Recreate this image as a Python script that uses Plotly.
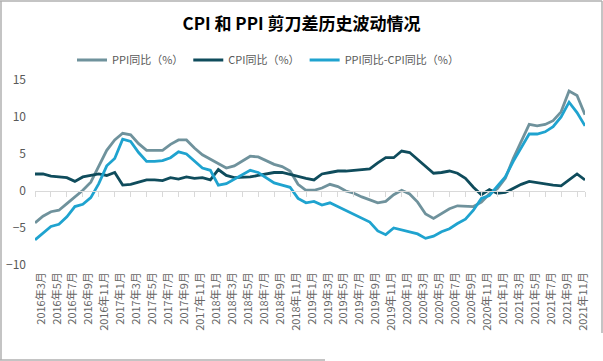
import plotly.graph_objects as go

# ---- data ----
months = []
for y in range(2016, 2022):
    for m in range(1, 13):
        if y == 2016 and m < 3:
            continue
        months.append(f"{y}年{m}月")

ppi = [-4.3, -3.4, -2.8, -2.6, -1.7, -0.8, 0.1, 1.2, 3.3, 5.5,
       6.9, 7.8, 7.6, 6.4, 5.5, 5.5, 5.5, 6.3, 6.9, 6.9, 5.8, 4.9,
       4.3, 3.7, 3.1, 3.4, 4.1, 4.7, 4.6, 4.1, 3.6, 3.3, 2.7, 0.9,
       0.1, 0.1, 0.4, 0.9, 0.6, 0.0, -0.3, -0.8, -1.2, -1.6, -1.4, -0.5,
       0.1, -0.4, -1.5, -3.1, -3.7, -3.0, -2.4, -2.0, -2.1, -2.1, -1.5, -0.4,
       0.3, 1.7, 4.4, 6.8, 9.0, 8.8, 9.0, 9.5, 10.7, 13.5, 12.9, 10.3]
cpi = [2.3, 2.3, 2.0, 1.9, 1.8, 1.3, 1.9, 2.1, 2.3, 2.1,
       2.5, 0.8, 0.9, 1.2, 1.5, 1.5, 1.4, 1.8, 1.6, 1.9, 1.7, 1.8,
       1.5, 2.9, 2.1, 1.8, 1.8, 1.9, 2.1, 2.3, 2.5, 2.5, 2.2, 1.9,
       1.7, 1.5, 2.3, 2.5, 2.7, 2.7, 2.8, 2.8, 3.0, 3.8, 4.5, 4.5,
       5.4, 5.2, 4.3, 3.3, 2.4, 2.5, 2.7, 2.4, 1.7, 0.5, -0.5, 0.2,
       -0.3, -0.2, 0.4, 0.9, 1.3, 1.1, 1.0, 0.8, 0.7, 1.5, 2.3, 1.5]
diff = [round(p - c, 1) for p, c in zip(ppi, cpi)]

tick_labels = months[::2]
y_ticks = [-10, -5, 0, 5, 10, 15]

names = ["PPI同比（%）", "CPI同比（%）", "PPI同比-CPI同比（%）"]
colors = ["#6f929c", "#0f4c5c", "#1fa3cf"]

# ---- figure ----
W, H = 603, 361
L, R, T, B = 35, 18, 80, 96
pw, ph = W - L - R, H - T - B

def px_x(px):
    return (px - L) / pw

def px_y(py):
    return (H - B - py) / ph

fig = go.Figure()
for name, vals, col in zip(names, [ppi, cpi, diff], colors):
    fig.add_trace(go.Scatter(x=months, y=vals, name=name, mode="lines",
                             line=dict(color=col, width=2.8),
                             hoverinfo="x+y"))
# invisible trace to carry the zero-line axis
fig.add_trace(go.Scatter(x=months, y=cpi, xaxis="x2", mode="lines",
                         line=dict(color="rgba(0,0,0,0)"), showlegend=False,
                         hoverinfo="skip"))

font_cjk = "Noto Sans CJK SC"
fig.update_layout(
    width=W, height=H,
    margin=dict(l=L, r=R, t=T, b=B, autoexpand=False),
    paper_bgcolor="white", plot_bgcolor="white",
    font=dict(family=font_cjk, color="#595959", size=11),
    title=dict(text="<b>CPI 和 PPI 剪刀差历史波动情况</b>", x=0.5, xanchor="center",
               y=1 - 24 / H, yanchor="middle",
               font=dict(family=font_cjk, size=17, color="#000000")),
    showlegend=True,
    legend=dict(orientation="h", x=px_x(72), xanchor="left", y=px_y(60), yanchor="middle",
                font=dict(size=11, color="#595959"), itemwidth=30,
                bgcolor="rgba(0,0,0,0)"),
    xaxis=dict(type="category", categoryorder="array", categoryarray=months,
               range=[0, len(months) - 1], tickmode="array", tickvals=tick_labels,
               ticktext=tick_labels, tickangle=-90, showgrid=False, zeroline=False,
               showline=False, ticks="", tickfont=dict(size=11, color="#666666"),
               ticklabelstandoff=4, ticklabelshift=6, automargin=False),
    xaxis2=dict(type="category", categoryorder="array", categoryarray=months,
                range=[0, len(months) - 1], overlaying="x", anchor="free",
                position=(0 - (-10)) / 25, side="bottom", showline=True,
                linecolor="#d9d9d9", linewidth=1, ticks="outside", ticklen=5,
                tickcolor="#d9d9d9", tickmode="array",
                tickvals=tick_labels + [months[-1]], showticklabels=False,
                showgrid=False, zeroline=False, automargin=False),
    yaxis=dict(range=[-10, 15], tickvals=y_ticks, showgrid=False, zeroline=False,
               showline=False, ticks="", tickfont=dict(size=12, color="#595959"),
               ticklabelstandoff=8, automargin=False),
)

# outer frame like the source image
frame = "#b0b0b0"
lines = [
    (1, 1, 1, 360),      # left
    (0, 1, 602, 1),      # top
    (602, 1, 602, 333),  # right
    (0, 360, 325, 360),  # bottom (partial)
]
for x0, y0, x1, y1 in lines:
    fig.add_shape(type="line", xref="paper", yref="paper",
                  x0=px_x(x0), y0=px_y(y0), x1=px_x(x1), y1=px_y(y1),
                  line=dict(color=frame, width=1.5))

fig.write_html("out.html", config={"displayModeBar": False},
               post_script="document.body.style.margin='0';document.body.style.padding='0';")
